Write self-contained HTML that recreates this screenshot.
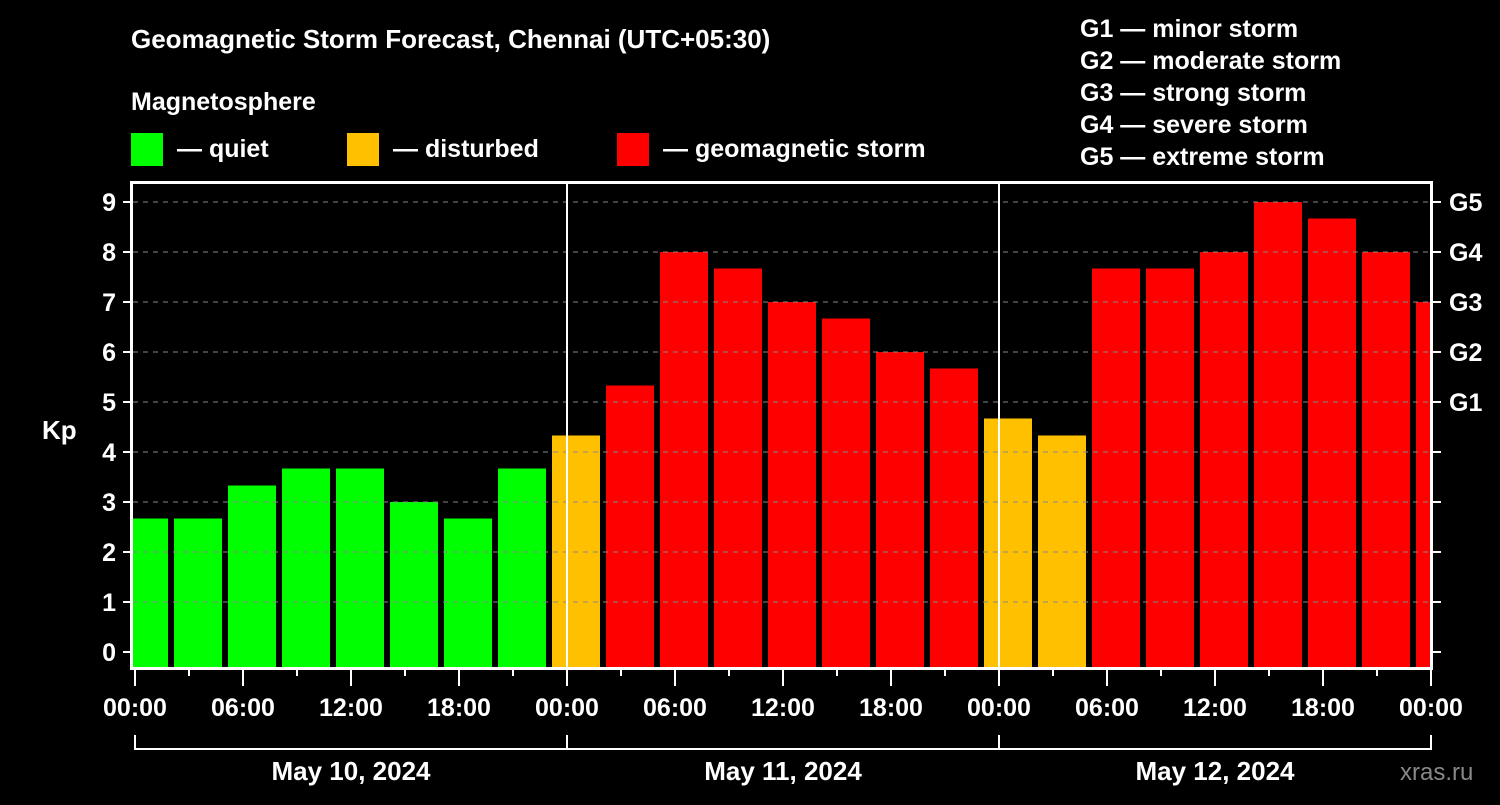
<!DOCTYPE html>
<html><head><meta charset="utf-8"><style>
body{margin:0;background:#000;width:1500px;height:800px;overflow:hidden}
svg text{font-family:"Liberation Sans",Arial,sans-serif;font-weight:bold;fill:#fff}
</style></head><body>
<svg id="c" width="1500" height="800">
<text x="131" y="48" font-size="26">Geomagnetic Storm Forecast, Chennai (UTC+05:30)</text>
<text x="131" y="110" font-size="25">Magnetosphere</text>
<rect x="131" y="133" width="32" height="33" fill="#00ff00"/>
<text x="177" y="157" font-size="25">— quiet</text>
<rect x="347" y="133" width="32" height="33" fill="#ffc000"/>
<text x="393" y="157" font-size="25">— disturbed</text>
<rect x="617" y="133" width="32" height="33" fill="#ff0000"/>
<text x="663" y="157" font-size="25">— geomagnetic storm</text>
<g font-size="25">
<text x="1080" y="37">G1 — minor storm</text>
<text x="1080" y="69">G2 — moderate storm</text>
<text x="1080" y="101">G3 — strong storm</text>
<text x="1080" y="133">G4 — severe storm</text>
<text x="1080" y="165">G5 — extreme storm</text>
</g>
<text x="42" y="439" font-size="26">Kp</text>
<text x="1400" y="780" font-size="24" style="fill:#888;font-weight:normal">xras.ru</text>
<g id="plot"></g>
</svg>
<script>
const kpValues=[2.67,2.67,3.33,3.67,3.67,3,2.67,3.67,4.33,5.33,8,7.67,7,6.67,6,5.67,4.67,4.33,7.67,7.67,8,9,8.67,8,7];
const yTicks=[0,1,2,3,4,5,6,7,8,9];
const gLabels=["G1","G2","G3","G4","G5"];
const hourLabels=["00:00","06:00","12:00","18:00","00:00","06:00","12:00","18:00","00:00","06:00","12:00","18:00","00:00"];
const dayLabels=["May 10, 2024","May 11, 2024","May 12, 2024"];
const NS="http://www.w3.org/2000/svg";
const g=document.getElementById('plot');
const L=133,R=1431,T=182,B=668,X0=135,PXH=18;
const xh=h=>X0+h*PXH, y=v=>652-50*v;
function mk(t,a,p){const e=document.createElementNS(NS,t);for(const k in a)e.setAttribute(k,a[k]);(p||g).appendChild(e);return e;}
const clip=mk('clipPath',{id:'cl'});mk('rect',{x:L,y:T,width:R-L,height:B-T},clip);
const bars=mk('g',{'clip-path':'url(#cl)'});


yTicks.forEach(v=>{if(v>0){const l=mk('line',{x1:L,x2:R,y1:y(v),y2:y(v),stroke:'#888','stroke-dasharray':'5,5','stroke-width':1});

}});
kpValues.forEach((v,i)=>{const x=xh(3*i-1)+3;const col=v>=5?'#ff0000':(v>=4?'#ffc000':'#00ff00');
const r=mk('rect',{x:x,y:y(v),width:48,height:668-y(v),fill:col},bars);

});
[24,48].forEach(h=>{const l=mk('line',{x1:xh(h),x2:xh(h),y1:T,y2:B,stroke:'#fff','stroke-width':2});

});
const fr=mk('rect',{x:131.5,y:182.5,width:1300,height:486,fill:'none',stroke:'#fff','stroke-width':3});


yTicks.forEach(v=>{mk('line',{x1:123,x2:131,y1:y(v),y2:y(v),stroke:'#fff','stroke-width':2});mk('line',{x1:1432,x2:1441,y1:y(v),y2:y(v),stroke:'#fff','stroke-width':2});
const t=mk('text',{x:116,y:y(v)+9,'font-size':25,'text-anchor':'end'});t.textContent=v;

});
gLabels.forEach((s,i)=>{const t=mk('text',{x:1449,y:y(5+i)+9,'font-size':25});t.textContent=s;

});
for(let h=3;h<72;h+=3){mk('line',{x1:xh(h),x2:xh(h),y1:668,y2:676,stroke:'#fff','stroke-width':2});}
hourLabels.forEach((s,i)=>{const h=6*i;mk('line',{x1:xh(h),x2:xh(h),y1:668,y2:686,stroke:'#fff','stroke-width':2});
const t=mk('text',{x:xh(h),y:716,'font-size':25,'text-anchor':'middle'});t.textContent=s;

});
mk('path',{d:`M${xh(0)} 735V749H${xh(72)}V735`,fill:'none',stroke:'#fff','stroke-width':2});
[24,48].forEach(h=>mk('line',{x1:xh(h),x2:xh(h),y1:735,y2:749,stroke:'#fff','stroke-width':2}));
dayLabels.forEach((s,i)=>{const t=mk('text',{x:xh(24*i+12),y:780,'font-size':26,'text-anchor':'middle'});t.textContent=s;

});
</script>
</body></html>
